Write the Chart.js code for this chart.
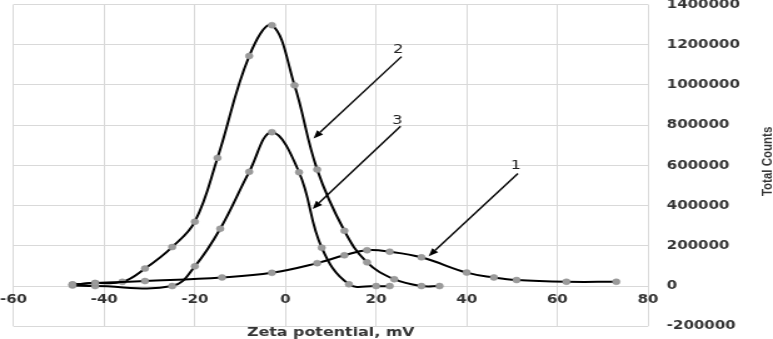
<!DOCTYPE html>
<html>
<head>
<meta charset="utf-8">
<script src="https://cdn.jsdelivr.net/npm/chart.js@4.4.1/dist/chart.umd.min.js"></script>
<style>
html, body { margin: 0; padding: 0; background: #fff; overflow: hidden; }
#wrap { position: absolute; left: 0; top: 0; width: 618px; height: 339px;
        transform: scaleX(1.2508); transform-origin: 0 0; }
</style>
</head>
<body>
<div id="wrap"><canvas id="c"></canvas></div>
<script>
// ---- data ----
const curve1X = [-47, -42, -31, -14, -3, 7, 13, 18, 23, 30, 40, 46, 51, 62, 73];
const curve1Y = [8000, 15000, 25000, 43000, 66000, 114000, 153000, 178000, 171000, 143000, 67000, 43000, 30000, 21500, 21500];

const curve2X = [-47, -42, -36, -31, -25, -20, -15, -8, -3, 2, 7, 13, 18, 24, 30, 34];
const curve2Y = [8000, 15000, 21000, 87000, 194000, 320000, 637000, 1144000, 1297000, 998000, 579000, 275000, 118000, 34000, 0, 0];

const curve3X = [-47, -42, -25, -20, -14.4, -8, -3, 3, 8, 14, 20, 23];
const curve3Y = [3000, 0, 0, 98000, 285000, 568000, 765000, 566000, 191000, 9000, 0, 0];

const xTickValues = [-60, -40, -20, 0, 20, 40, 60, 80];
const yTickValues = [-200000, 0, 200000, 400000, 600000, 800000, 1000000, 1200000, 1400000];

const xTitle = 'Zeta potential, mV';
const yTitle = 'Total Counts';

// annotation labels with arrows (in data units)
const annoText   = ['1', '2', '3'];
const annoLabelX = [50.8, 24.9, 24.7];
const annoLabelY = [597500, 1173700, 823200];
const arrowFromX = [51.3, 25.6, 25.4];
const arrowFromY = [559500, 1140700, 795000];
const arrowToX   = [31.6, 6.2, 6.0];
const arrowToY   = [148000, 734300, 383700];

const toPoints = (xs, ys) => xs.map((x, i) => ({ x: x, y: ys[i] }));

const lineStyle = {
  borderColor: '#000',
  borderWidth: 2,
  pointRadius: 3,
  pointBackgroundColor: '#9b9b9b',
  pointBorderColor: '#8f8f8f',
  pointBorderWidth: 0.5,
  tension: 0.4,
  fill: false
};

const annotationPlugin = {
  id: 'arrows',
  afterDatasetsDraw(chart) {
    const ctx = chart.ctx, sx = chart.scales.x, sy = chart.scales.y;
    ctx.save();
    for (let i = 0; i < annoText.length; i++) {
      const x1 = sx.getPixelForValue(arrowFromX[i]), y1 = sy.getPixelForValue(arrowFromY[i]);
      const x2 = sx.getPixelForValue(arrowToX[i]),   y2 = sy.getPixelForValue(arrowToY[i]);
      const ang = Math.atan2(y2 - y1, x2 - x1);
      const L = 8, W = 3.2;
      const bx = x2 - L * Math.cos(ang), by = y2 - L * Math.sin(ang);
      ctx.strokeStyle = '#000';
      ctx.lineWidth = 1.4;
      ctx.beginPath(); ctx.moveTo(x1, y1); ctx.lineTo(bx, by); ctx.stroke();
      ctx.fillStyle = '#000';
      ctx.beginPath();
      ctx.moveTo(x2, y2);
      ctx.lineTo(bx + W * Math.sin(ang), by - W * Math.cos(ang));
      ctx.lineTo(bx - W * Math.sin(ang), by + W * Math.cos(ang));
      ctx.closePath(); ctx.fill();
      ctx.font = '13px "DejaVu Sans"';
      ctx.fillStyle = '#222';
      ctx.textAlign = 'center';
      ctx.textBaseline = 'middle';
      ctx.fillText(annoText[i], sx.getPixelForValue(annoLabelX[i]), sy.getPixelForValue(annoLabelY[i]));
    }
    ctx.restore();
  },
  afterDraw(chart) {
    const ctx = chart.ctx, area = chart.chartArea;
    ctx.save();
    ctx.translate(chart.width - 4, (area.top + area.bottom) / 2 - 4);
    ctx.rotate(-Math.PI / 2);
    ctx.font = 'bold 11.5px "Liberation Sans"';
    ctx.fillStyle = '#333';
    ctx.textAlign = 'center';
    ctx.textBaseline = 'middle';
    ctx.fillText(yTitle, 0, 0);
    ctx.restore();
  }
};

const tickFont = { family: 'DejaVu Sans', size: 12, weight: 'bold' };

new Chart(document.getElementById('c'), {
  type: 'line',
  data: {
    datasets: [
      Object.assign({ label: '1', data: toPoints(curve1X, curve1Y) }, lineStyle),
      Object.assign({ label: '2', data: toPoints(curve2X, curve2Y) }, lineStyle),
      Object.assign({ label: '3', data: toPoints(curve3X, curve3Y) }, lineStyle)
    ]
  },
  options: {
    responsive: true,
    maintainAspectRatio: false,
    animation: false,
    layout: { padding: { left: 0, right: 23.5, top: 0, bottom: 0 } },
    plugins: { legend: { display: false }, tooltip: { enabled: false } },
    scales: {
      x: {
        type: 'linear',
        position: { y: 0 },
        min: -60, max: 80,
        afterBuildTicks: s => { s.ticks = xTickValues.map(v => ({ value: v })); },
        grid: { color: '#d9d9d9', lineWidth: 1, drawTicks: true, tickLength: 7, tickColor: 'rgba(0,0,0,0)' },
        border: { display: false },
        ticks: { padding: 0, maxRotation: 0, autoSkip: false, color: '#333', font: tickFont,
                 callback: v => String(v) }
      },
      xt: {
        type: 'linear',
        position: 'bottom',
        grid: { display: false, drawTicks: false },
        border: { display: false },
        ticks: { display: false },
        title: { display: true, text: xTitle, color: '#333',
                 font: { family: 'DejaVu Sans', size: 12.7, weight: 'bold', lineHeight: 1 },
                 padding: { top: 0, bottom: 0 } }
      },
      y: {
        type: 'linear',
        position: 'right',
        min: -200000, max: 1400000,
        afterBuildTicks: s => { s.ticks = yTickValues.map(v => ({ value: v })); },
        grid: { color: '#d9d9d9', lineWidth: 1, drawTicks: true, tickLength: 12, tickColor: 'rgba(0,0,0,0)' },
        border: { display: false },
        ticks: { padding: 3, autoSkip: false, color: '#333',
                 font: { family: 'DejaVu Sans', size: 12, weight: 'bold', lineHeight: 0.01 },
                 callback: v => String(v) }
      }
    }
  },
  plugins: [annotationPlugin]
});
</script>
</body>
</html>
